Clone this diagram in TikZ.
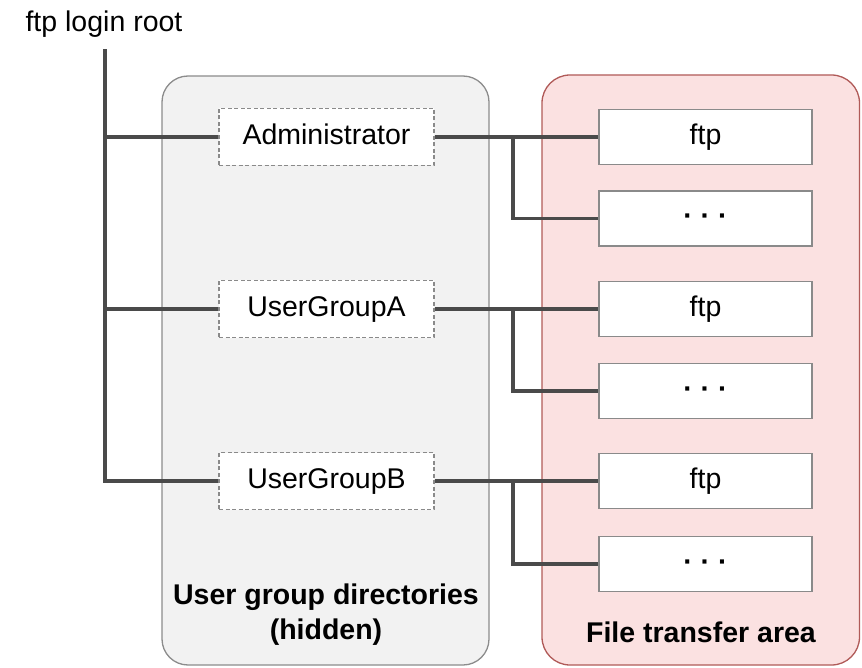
\documentclass[tikz,border=0pt]{standalone}
\usepackage{fontspec}
\setmainfont{Liberation Sans}
\usetikzlibrary{calc}
\definecolor{connc}{HTML}{4A4A4A}
\definecolor{grayfill}{HTML}{F2F2F2}
\definecolor{grayline}{HTML}{8C8C8C}
\definecolor{redfill}{HTML}{FBE1E1}
\definecolor{redline}{HTML}{B05A58}
\definecolor{boxline}{HTML}{8A8A8A}
\tikzset{
  lbl/.style={font=\fontsize{28.5}{34}\selectfont, text height=20pt, text depth=5pt, inner sep=0pt},
  groupbox/.style={lbl, draw=boxline, line width=1.2pt, dash pattern=on 4pt off 2.5pt, fill=white,
    minimum width=215pt, minimum height=57pt},
  filebox/.style={lbl, draw=boxline, line width=1.8pt, fill=white,
    minimum width=213pt, minimum height=55pt},
  dotsbox/.style={filebox, font=\fontsize{28.5}{34}\selectfont\bfseries},
  conn/.style={draw=connc, line width=3.2pt},
  area/.style={align=center, font=\fontsize{28.5}{35}\selectfont\bfseries, inner sep=0pt}
}
\begin{document}
\begin{tikzpicture}[x=1pt,y=-1pt]
\useasboundingbox (0,0) rectangle (862,668);
% containers
\draw[fill=grayfill, draw=grayline, line width=1.3pt, rounded corners=26pt] (162,76) rectangle (489,665);
\draw[fill=redfill, draw=redline, line width=1.3pt, rounded corners=28pt] (542,75) rectangle (859.5,665);
% root label
\node[font=\fontsize{28.5}{34}\selectfont, inner sep=0pt, anchor=base] (root) at (104,32) {ftp login root};
% group boxes
\node[groupbox] (admin) at (326.5,137) {Administrator};
\node[groupbox] (uga) at (326.5,309) {UserGroupA};
\node[groupbox] (ugb) at (326.5,481) {UserGroupB};
% file boxes
\node[filebox] (ftp1) at (705.5,137) {ftp};
\node[dotsbox] (dots1) at (705.5,218.5) {· · ·};
\node[filebox] (ftp2) at (705.5,309) {ftp};
\node[dotsbox] (dots2) at (705.5,391) {· · ·};
\node[filebox] (ftp3) at (705.5,481) {ftp};
\node[dotsbox] (dots3) at (705.5,564) {· · ·};
% area titles
\node[area] (ugdir) at (326,615) {User group directories\\(hidden)};
\node[area] (fta) at (701,632) {File transfer area};
% trunk
\coordinate (trunk) at ($(root.south)+(1,11)$);
\draw[conn] (trunk) |- (ugb.west);
\draw[conn] (trunk |- admin.west) -- (admin.west);
\draw[conn] (trunk |- uga.west) -- (uga.west);
% branches
\draw[conn] (admin.east) -- (ftp1.west);
\draw[conn] ($(admin.east)!0.48!(ftp1.west)$) |- (dots1.west);
\draw[conn] (uga.east) -- (ftp2.west);
\draw[conn] ($(uga.east)!0.48!(ftp2.west)$) |- (dots2.west);
\draw[conn] (ugb.east) -- (ftp3.west);
\draw[conn] ($(ugb.east)!0.48!(ftp3.west)$) |- (dots3.west);
\end{tikzpicture}
\end{document}
